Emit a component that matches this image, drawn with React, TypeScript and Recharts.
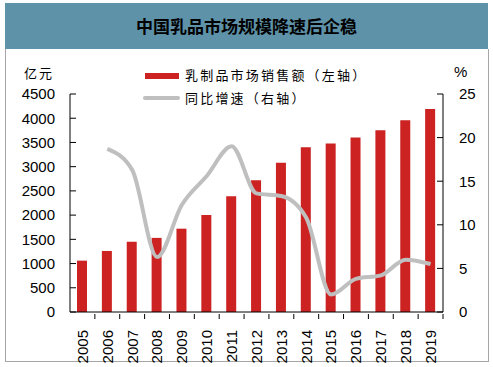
import React from 'react';
import { ComposedChart, Bar, Line, XAxis, YAxis } from 'recharts';

const years = ['2005', '2006', '2007', '2008', '2009', '2010', '2011', '2012', '2013', '2014', '2015', '2016', '2017', '2018', '2019'];
const sales = [1060, 1260, 1450, 1530, 1720, 2000, 2390, 2720, 3080, 3400, 3480, 3600, 3750, 3960, 4190];
const growth = [null, 18.7, 16.3, 6.3, 12.3, 15.6, 19.0, 13.6, 13.3, 10.8, 2.0, 3.8, 4.2, 6.0, 5.5];
const leftTicks = [0, 500, 1000, 1500, 2000, 2500, 3000, 3500, 4000, 4500];
const rightTicks = [0, 5, 10, 15, 20, 25];

const data = years.map((year, i) => ({ year, sales: sales[i], growth: growth[i] }));

const PLOT_LEFT = 70;
const PLOT_RIGHT = 443;
const STEP = (PLOT_RIGHT - PLOT_LEFT) / years.length;

const YearTick = (props: any) =>
{
	const { x, y, payload } = props;
	const bx = x + STEP / 2;
	return (
		<g>
			<line x1={ bx } y1={ y - 1 } x2={ bx } y2={ y - 6 } stroke="#000" strokeWidth={ 1 } />
			<text
				x={ x }
				y={ y + 10 }
				dy="0.36em"
				textAnchor="end"
				transform={ `rotate(-90, ${ x }, ${ y + 10 })` }
				fontSize={ 15 }
				fontFamily="'Liberation Sans', Arial, sans-serif"
				fill="#000"
			>
				{ payload.value }
			</text>
		</g>
	);
};

const cjk = "'Noto Sans CJK SC', sans-serif";

export default function App()
{
	return (
		<div style={ { position: 'absolute', left: 0, top: 0, width: 493, height: 367, background: '#fff' } }>
			<div style={ {
				position: 'absolute', left: 5, top: 3, width: 483, height: 46,
				background: '#5e92a8', color: '#000', fontFamily: cjk, fontWeight: 700,
				fontSize: 17, lineHeight: '46px', textAlign: 'center', letterSpacing: 0,
			} }>
				中国乳品市场规模降速后企稳
			</div>
			<div style={ {
				position: 'absolute', left: 5, top: 49, width: 482, height: 312,
				borderLeft: '1px solid #a6a6a6', borderRight: '1px solid #a6a6a6', borderBottom: '1px solid #a6a6a6',
			} } />
			<div style={ { position: 'absolute', left: 24, top: 63, fontFamily: cjk, fontSize: 13, letterSpacing: 2 } }>亿元</div>
			<div style={ { position: 'absolute', left: 454, top: 63, fontFamily: "'Liberation Sans', Arial, sans-serif", fontSize: 15 } }>%</div>
			<div style={ { position: 'absolute', left: 145, top: 73, width: 34, height: 6, background: '#cc2222' } } />
			<div style={ { position: 'absolute', left: 185, top: 65, fontFamily: cjk, fontSize: 13, letterSpacing: 2.2, whiteSpace: 'nowrap' } }>乳制品市场销售额（左轴）</div>
			<div style={ { position: 'absolute', left: 143, top: 96, width: 37, height: 4, background: '#bfbfbf', borderRadius: 2 } } />
			<div style={ { position: 'absolute', left: 185, top: 88, fontFamily: cjk, fontSize: 13, letterSpacing: 2.2, whiteSpace: 'nowrap' } }>同比增速（右轴）</div>
			<div style={ { position: 'absolute', left: 0, top: 0 } }>
				<ComposedChart
					width={ 493 }
					height={ 367 }
					data={ data }
					margin={ { top: 94, right: 0, left: 10, bottom: 10 } }
				>
					<XAxis
						dataKey="year"
						height={ 45 }
						axisLine={ { stroke: '#000' } }
						tickLine={ false }
						interval={ 0 }
						tick={ <YearTick /> }
					/>
					<YAxis
						yAxisId="left"
						width={ 60 }
						domain={ [0, 4500] }
						ticks={ leftTicks }
						interval={ 0 }
						axisLine={ { stroke: '#000' } }
						tickLine={ { stroke: '#000' } }
						tickSize={ -6 }
						tickMargin={ 21 }
						tick={ { fill: '#000', fontSize: 15, fontFamily: "'Liberation Sans', Arial, sans-serif" } }
					/>
					<YAxis
						yAxisId="right"
						orientation="right"
						width={ 50 }
						domain={ [0, 25] }
						ticks={ rightTicks }
						interval={ 0 }
						axisLine={ { stroke: '#000' } }
						tickLine={ { stroke: '#000' } }
						tickSize={ -6 }
						tickMargin={ 22 }
						tick={ { fill: '#000', fontSize: 15, fontFamily: "'Liberation Sans', Arial, sans-serif" } }
					/>
					<Bar yAxisId="left" dataKey="sales" fill="#cc2222" barSize={ 10 } isAnimationActive={ false } />
					<Line
						yAxisId="right"
						type="monotone"
						dataKey="growth"
						stroke="#bfbfbf"
						strokeWidth={ 4 }
						dot={ false }
						activeDot={ false }
						isAnimationActive={ false }
					/>
				</ComposedChart>
			</div>
		</div>
	);
}
